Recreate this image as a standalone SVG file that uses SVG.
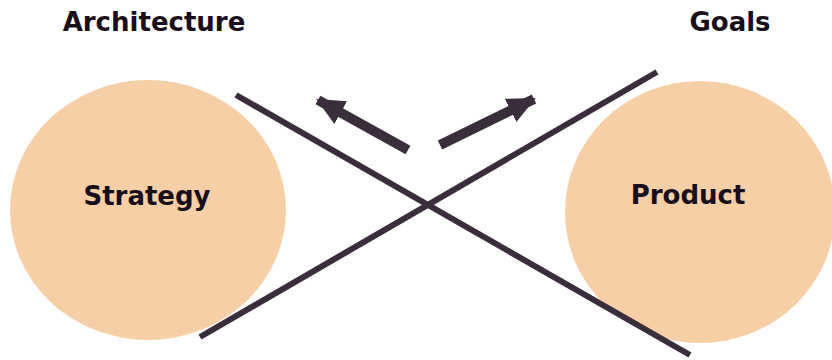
<svg xmlns="http://www.w3.org/2000/svg" width="832" height="360" viewBox="0 0 832 360">
<style>
.node{fill:#f6cfa6}
.lbl{font-family:"DejaVu Sans",Verdana,sans-serif;font-weight:bold;font-size:26px;fill:#1a0e1a}
.ln{stroke:#3a2e3c;stroke-width:6;fill:none}
.ar{stroke:#3a2e3c;stroke-width:10;fill:none}
</style>
<defs>
<marker id="ah" markerUnits="userSpaceOnUse" markerWidth="30" markerHeight="30" viewBox="0 0 30 30" refX="26" refY="15" orient="auto">
<path d="M0,2 L28,15 L0,28 Z" fill="#3a2e3c"/>
</marker>
</defs>
<rect width="832" height="360" fill="#ffffff"/>
<g id="architecture"><text class="lbl" x="154" y="31" text-anchor="middle">Architecture</text></g>
<g id="goals"><text class="lbl" x="730" y="31" text-anchor="middle">Goals</text></g>
<g id="strategy">
<ellipse class="node" cx="148" cy="210" rx="138" ry="130"/>
<text class="lbl" x="147" y="205" text-anchor="middle">Strategy</text>
</g>
<g id="product">
<ellipse class="node" cx="700" cy="212" rx="135" ry="131"/>
<text class="lbl" x="688" y="204" text-anchor="middle">Product</text>
</g>
<g id="connectors">
<line class="ln" x1="236" y1="95" x2="690" y2="355"/>
<line class="ln" x1="200" y1="337" x2="657" y2="72"/>
<line class="ar" x1="408" y1="150" x2="318" y2="100" marker-end="url(#ah)"/>
<line class="ar" x1="440" y1="145" x2="534" y2="99" marker-end="url(#ah)"/>
</g>
</svg>
